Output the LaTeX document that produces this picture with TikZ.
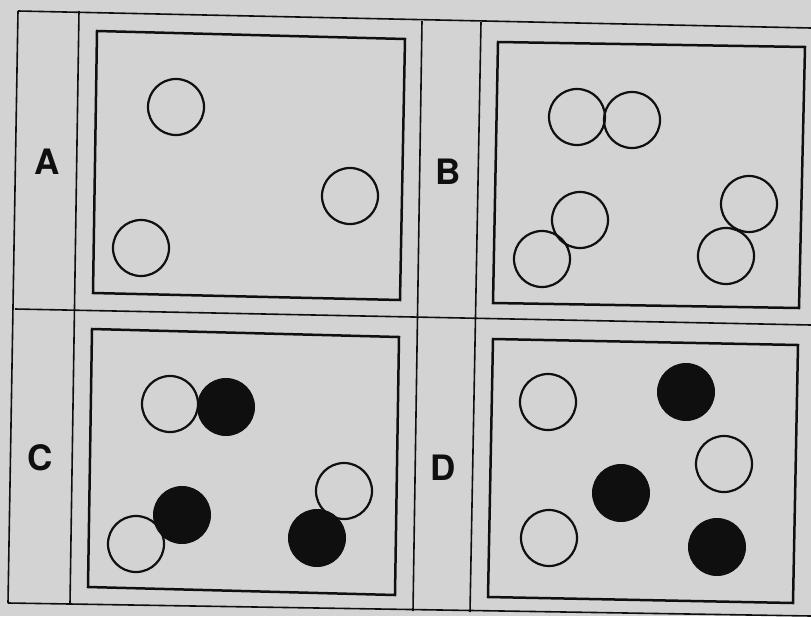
\documentclass[tikz,border=0pt]{standalone}
\usepackage{fontspec}
\setmainfont{TeX Gyre Heros}
\definecolor{paper}{RGB}{211,211,211}
\definecolor{ink}{RGB}{15,15,15}
\begin{document}
\begin{tikzpicture}[x=1pt,y=-1pt,
  grid/.style={draw=ink,line width=1.6pt},
  panel/.style={draw=ink,line width=2.5pt,line join=miter},
  hollow/.style={circle,draw=ink,line width=2.2pt,minimum size=56pt,inner sep=0pt},
  solid/.style={circle,fill=ink,draw=ink,line width=1pt,minimum size=57pt,inner sep=0pt},
  lbl/.style={font=\fontsize{35}{35}\selectfont\bfseries,text=ink,inner sep=0pt}]
\useasboundingbox (0,0) rectangle (811,616);
\fill[paper] (0,0) rectangle (811,616);
% outer grid
\draw[grid] (18,11) -- (811,28);
\draw[grid] (15,309) -- (811,325);
\draw[grid] (8,603) -- (811,616);
\draw[grid] (18,11) -- (8,603);
\draw[grid] (79,11) -- (70,604);
\draw[grid] (422,21) -- (413,611);
\draw[grid] (481,22) -- (470,612);
% labels
\node[lbl] (la) at (47,162) {A};
\node[lbl] (lb) at (448,172) {B};
\node[lbl] (lc) at (40,458) {C};
\node[lbl] (ld) at (443,468) {D};
% panels
\draw[panel] (97,31) -- (405,39) -- (400,300) -- (93,293) -- cycle;
\draw[panel] (498,42) -- (805,47) -- (799,308) -- (493,303) -- cycle;
\draw[panel] (92,329) -- (399,337) -- (395,595) -- (88,587) -- cycle;
\draw[panel] (493,339) -- (798,345) -- (793,603) -- (488,597) -- cycle;
% A
\node[hollow] (a1) at (176,107) {};
\node[hollow] (a2) at (350,196) {};
\node[hollow] (a3) at (141,248) {};
% B
\node[hollow] (b1) at (577,117) {};
\node[hollow] (b2) at (632,120) {};
\node[hollow] (b3) at (580,220) {};
\node[hollow] (b4) at (542,259) {};
\node[hollow] (b5) at (749,204) {};
\node[hollow] (b6) at (726,256) {};
% C
\node[hollow] (c1) at (170,404) {};
\node[solid] (c2) at (226,407) {};
\node[hollow] (c4) at (136,544) {};
\node[solid] (c3) at (182,515) {};
\node[hollow] (c5) at (344,491) {};
\node[solid] (c6) at (317,538) {};
% D
\node[hollow] (d1) at (548,402) {};
\node[solid] (d2) at (686,392) {};
\node[hollow] (d3) at (724,464) {};
\node[solid] (d4) at (621,493) {};
\node[hollow] (d5) at (549,538) {};
\node[solid] (d6) at (717,547) {};
\end{tikzpicture}
\end{document}
